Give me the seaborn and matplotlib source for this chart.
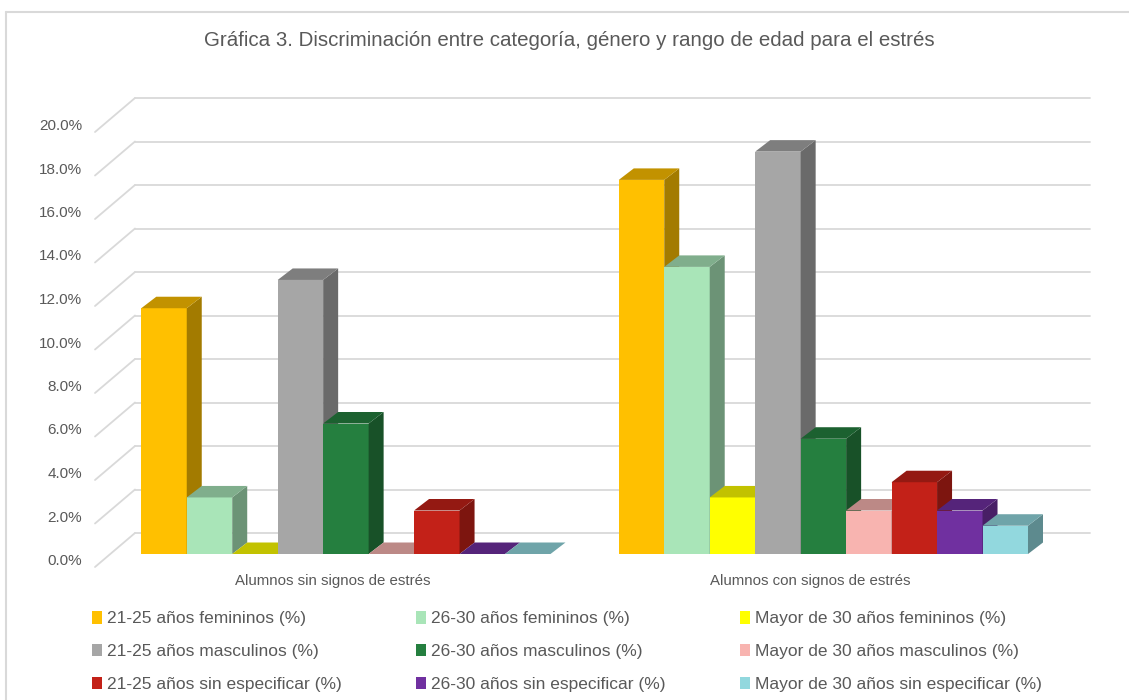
import matplotlib
matplotlib.use("Agg")
import matplotlib.pyplot as plt
import matplotlib.patches as mpatches
from matplotlib.lines import Line2D
import seaborn as sns
import pandas as pd
import numpy as np

# ---------------- data ----------------
categories = ["Alumnos sin signos de estrés", "Alumnos con signos de estrés"]
series = [
    "21-25 años femininos (%)", "26-30 años femininos (%)", "Mayor de 30 años femininos (%)",
    "21-25 años masculinos (%)", "26-30 años masculinos (%)", "Mayor de 30 años masculinos (%)",
    "21-25 años sin especificar (%)", "26-30 años sin especificar (%)", "Mayor de 30 años sin especificar (%)",
]
values_sin = [11.3, 2.6, 0.0, 12.6, 6.0, 0.0, 2.0, 0.0, 0.0]
values_con = [17.2, 13.2, 2.6, 18.5, 5.3, 2.0, 3.3, 2.0, 1.3]
colors = ["#FFC000", "#A9E5B8", "#FFFF00", "#A6A6A6", "#257F3F",
          "#F8B4B0", "#C32118", "#7030A0", "#92D8DE"]
yticks = [0, 2, 4, 6, 8, 10, 12, 14, 16, 18, 20]
title = "Gráfica 3. Discriminación entre categoría, género y rango de edad para el estrés"

df = pd.DataFrame({
    "cat": [categories[0]] * 9 + [categories[1]] * 9,
    "serie": series * 2,
    "val": values_sin + values_con,
})

# ---------------- figure ----------------
W, H = 1129, 700
fig = plt.figure(figsize=(W / 100, H / 100), dpi=100)
sns.set_style("white")
plt.rcParams["font.family"] = ["Liberation Sans", "DejaVu Sans"]
TXT = "#595959"

# axes = plane of the bars' front faces (pixel geometry)
ax_l, ax_r, ax_base, ax_top = 110, 1065, 554, 119
ax = fig.add_axes([ax_l / W, (H - ax_base) / H, (ax_r - ax_l) / W, (ax_base - ax_top) / H])
ax.set_facecolor("none")

sns.barplot(data=df, x="cat", y="val", hue="serie", order=categories, hue_order=series,
            palette=colors, width=0.857, dodge=True, gap=0, linewidth=0,
            saturation=1, legend=False, ax=ax, zorder=5)

xlim = (-0.494, 1.506)
ax.set_xlim(*xlim)
ax.set_ylim(0, 20)
ppx = (ax_r - ax_l) / (xlim[1] - xlim[0])   # pixels per x unit
ppy = (ax_base - ax_top) / 20.0             # pixels per y unit

for s in ax.spines.values():
    s.set_visible(False)
ax.set_xlabel("")
ax.set_ylabel("")
ax.set_xticks([])
ax.set_yticks([])

# ---------------- gridlines (back wall + slanted left) ----------------
bdx, bdy = 25 / ppx, 21 / ppy        # back wall offset
fdx, fdy = -15 / ppx, -13 / ppy      # front floor offset
gc = "#D9D9D9"
for v in yticks:
    ax.add_line(Line2D([xlim[0] + bdx, xlim[1] + bdx], [v + bdy, v + bdy],
                       color=gc, lw=1.3, zorder=1, clip_on=False))
    ax.add_line(Line2D([xlim[0] + fdx, xlim[0] + bdx], [v + fdy, v + bdy],
                       color=gc, lw=1.3, zorder=1, clip_on=False))
    ax.text(xlim[0] - 28 / ppx, v - 7 / ppy, f"{v:.1f}%", ha="right", va="center",
            fontsize=11, color=TXT, clip_on=False)

# ---------------- 3D faces for each bar ----------------
ddx, ddy = 15 / ppx, 11.5 / ppy      # bar depth
bars = sorted([p for p in ax.patches if isinstance(p, mpatches.Rectangle)], key=lambda p: p.get_x())
for i, p in enumerate(bars):
    x0, w, h = p.get_x(), p.get_width(), p.get_height()
    x1 = x0 + w
    fc = np.array(p.get_facecolor()[:3])
    z = 5 + i
    p.set_zorder(z)
    p.set_clip_on(False)
    top = mpatches.Polygon([(x0, h), (x1, h), (x1 + ddx, h + ddy), (x0 + ddx, h + ddy)],
                           closed=True, facecolor=fc * 0.76, edgecolor="none", zorder=z,
                           clip_on=False)
    side = mpatches.Polygon([(x1, 0), (x1, h), (x1 + ddx, h + ddy), (x1 + ddx, ddy)],
                            closed=True, facecolor=fc * 0.64, edgecolor="none", zorder=z,
                            clip_on=False)
    ax.add_patch(side)
    ax.add_patch(top)

# ---------------- category labels ----------------
for k, c in enumerate(categories):
    ax.text(k - 13 / ppx, -27 / ppy, c, ha="center", va="center", fontsize=10.8,
            color=TXT, clip_on=False)

# ---------------- title ----------------
fig.text(569 / W, 1 - 40 / H, title, ha="center", va="center", fontsize=14.8, color=TXT)

# ---------------- legend ----------------
handles = [mpatches.Patch(facecolor=c, edgecolor="none", label=s) for c, s in zip(colors, series)]
order = [0, 3, 6, 1, 4, 7, 2, 5, 8]
leg = fig.legend([handles[i] for i in order], [series[i] for i in order], ncol=3,
                 loc="upper left", bbox_to_anchor=(92 / W, 1 - 611 / H), frameon=False,
                 fontsize=12.5, labelcolor=TXT, handlelength=0.55, handleheight=0.75,
                 handletextpad=0.3, columnspacing=4.3, labelspacing=1.0,
                 borderpad=0, borderaxespad=0)

# ---------------- chart border ----------------
fig.add_artist(Line2D([6 / W, 6 / W], [0, 1 - 12 / H], transform=fig.transFigure,
                      color="#D9D9D9", lw=1.5))
fig.add_artist(Line2D([6 / W, 1], [1 - 12 / H, 1 - 12 / H], transform=fig.transFigure,
                      color="#D9D9D9", lw=1.5))

fig.savefig("out.png", dpi=100, facecolor="white")
